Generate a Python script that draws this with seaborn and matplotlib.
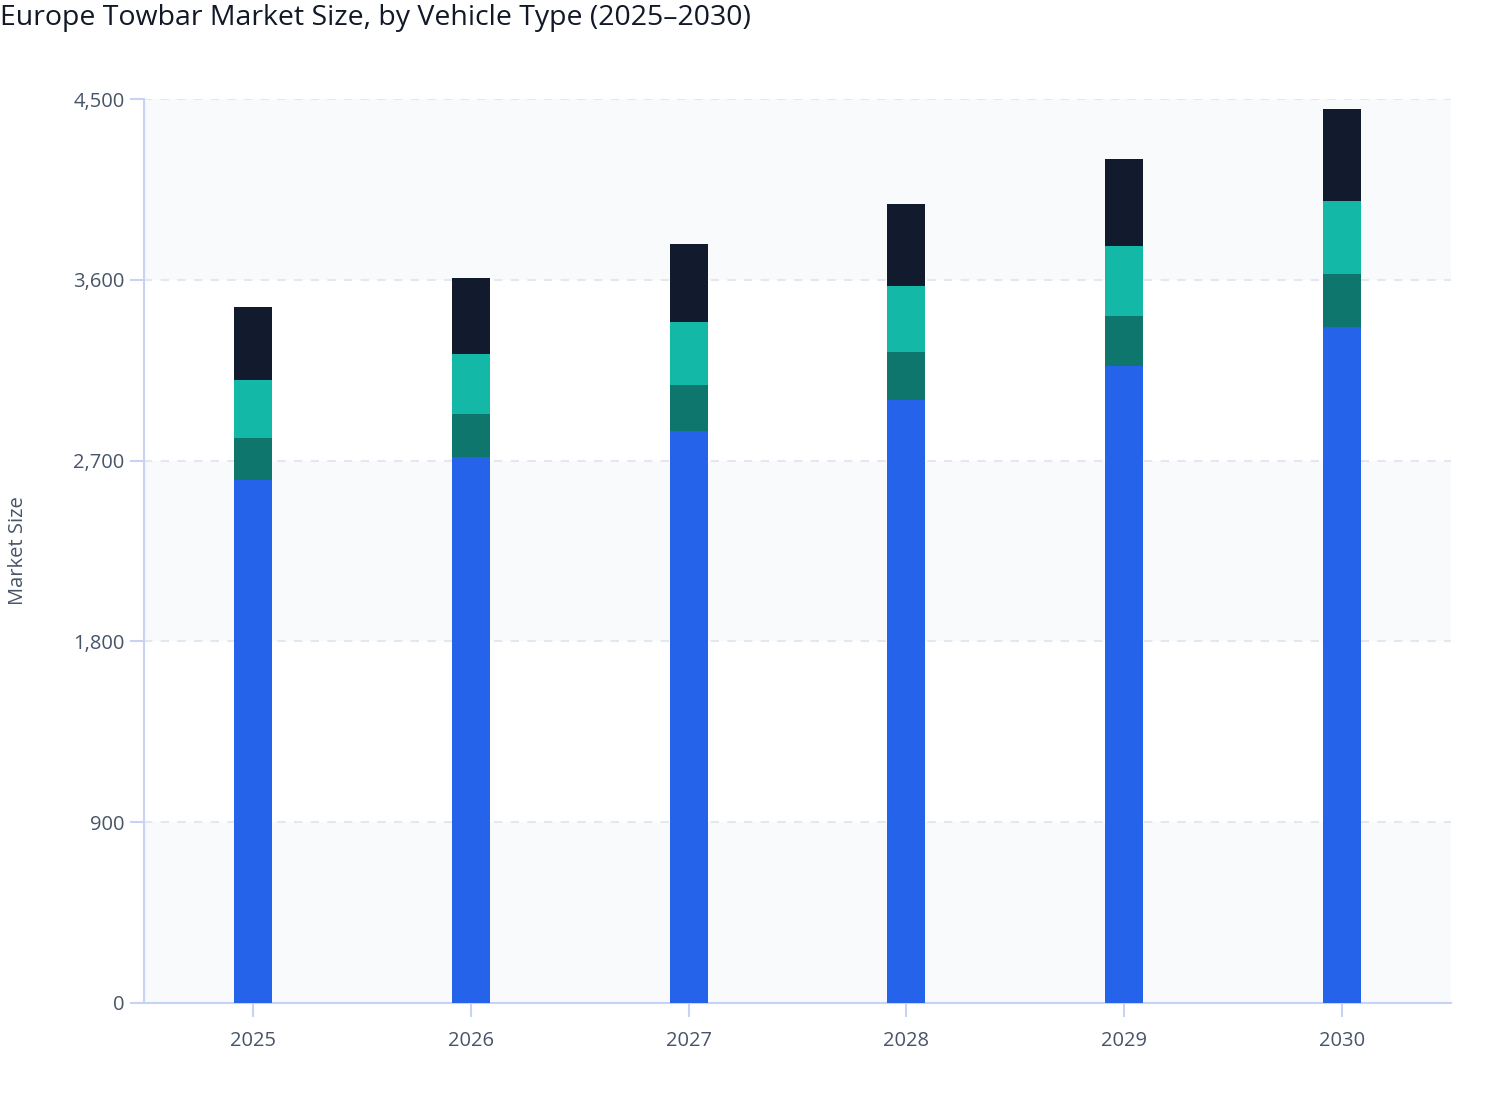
import matplotlib
matplotlib.use("Agg")
import matplotlib.pyplot as plt
import seaborn as sns
import numpy as np
import pandas as pd

years = ["2025", "2026", "2027", "2028", "2029", "2030"]
passenger_cars = [2603, 2718, 2847, 3002, 3171, 3364]
light_commercial = [209, 214, 229, 239, 250, 266]
heavy_commercial = [289, 299, 314, 328, 347, 362]
other_vehicles = [363, 378, 388, 408, 432, 457]

series_names = ["Passenger Cars", "Light Commercial Vehicles", "Heavy Commercial Vehicles", "Others"]
series_values = [passenger_cars, light_commercial, heavy_commercial, other_vehicles]
series_colors = ["#2563eb", "#0f766e", "#14b8a6", "#121a2d"]

sns.set_theme(style="white")
plt.rcParams["font.family"] = ["Open Sans", "DejaVu Sans"]

fig = plt.figure(figsize=(15.08, 11.2), dpi=100)
ax = fig.add_axes([144 / 1508, 117 / 1120, (1451 - 144) / 1508, (1003 - 99) / 1120])

# alternating background bands
ymax = 4500
step = 900
for i, lo in enumerate(range(0, ymax, step)):
    if i % 2 == 0:
        ax.axhspan(lo, lo + step, color="#f8fafc", zorder=0, lw=0)

cum = np.cumsum(np.array(series_values), axis=0)
df = pd.DataFrame({"year": years})
# draw from the tallest cumulative layer down so lower layers sit on top
for idx in range(len(series_names) - 1, -1, -1):
    df["v"] = cum[idx]
    sns.barplot(data=df, x="year", y="v", color=series_colors[idx], width=0.174,
                saturation=1, ax=ax, zorder=3, linewidth=0)

ax.set_ylim(0, ymax)
ax.set_xlim(-0.5, 5.5)
ax.set_yticks(range(0, ymax + 1, step))
ax.set_yticklabels([f"{v:,}" for v in range(0, ymax + 1, step)])

for v in range(step, ymax + 1, step):
    ax.axhline(v, color="#e2e8f0", lw=1.5, ls=(0, (4, 4)), zorder=1)

for s in ["top", "right"]:
    ax.spines[s].set_visible(False)
for s in ["left", "bottom"]:
    ax.spines[s].set_color("#c7d2f5")
    ax.spines[s].set_linewidth(1.5)

ax.tick_params(axis="both", which="major", length=10, width=1.5, color="#c7d2f5",
               labelsize=14.5, labelcolor="#475569", pad=4, left=True, bottom=True)
ax.tick_params(axis="x", pad=10)
ax.set_xlabel("")
ax.set_ylabel("Market Size", fontsize=14.5, color="#475569")
ax.yaxis.set_label_coords(-0.089, 0.5)

fig.text(0.0, 1 - 18 / 1120, "Europe Towbar Market Size, by Vehicle Type (2025–2030)",
         fontsize=20.5, color="#111827", ha="left", va="center")

fig.savefig("out.png", dpi=100)
